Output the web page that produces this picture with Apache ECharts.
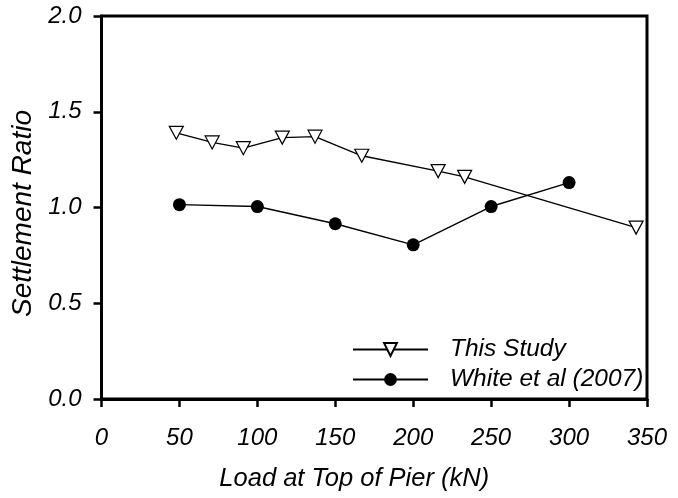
<!DOCTYPE html>
<html>
<head>
<meta charset="utf-8">
<script src="https://cdn.jsdelivr.net/npm/echarts@6/dist/echarts.min.js"></script>
<style>
  html, body { margin: 0; padding: 0; background: #fff; }
  #chart { width: 678px; height: 498px; }
</style>
</head>
<body>
<div id="chart"></div>
<script>
// Load at top of pier (kN) and settlement ratio for each data set
var thisStudyLoad = [48, 71, 91, 116, 137, 167, 216, 233, 343];
var thisStudyRatio = [1.39, 1.34, 1.31, 1.365, 1.37, 1.27, 1.19, 1.16, 0.895];

var whiteLoad = [50, 100, 150, 200, 250, 300];
var whiteRatio = [1.015, 1.005, 0.915, 0.805, 1.005, 1.13];

var seriesNames = ['This Study', 'White et al (2007)'];
var xTitle = 'Load at Top of Pier (kN)';
var yTitle = 'Settlement Ratio';

function pairs(xs, ys) {
  return xs.map(function (x, i) { return [x, ys[i]]; });
}

var font = 'Liberation Sans, Arial, sans-serif';
var downTriangle = 'path://M0,0 L12,0 L6,11 Z';

var chart = echarts.init(document.getElementById('chart'), null, { renderer: 'canvas' });
chart.setOption({
  animation: false,
  backgroundColor: '#fff',
  grid: {
    left: 101.5, right: 31, top: 16, bottom: 99,
    show: true, borderColor: '#000', borderWidth: 3, backgroundColor: 'transparent'
  },
  legend: {
    orient: 'vertical',
    left: 347, top: 332,
    itemWidth: 75, itemHeight: 16, itemGap: 5,
    textStyle: { fontFamily: font, fontStyle: 'italic', fontSize: 24.5, color: '#000', padding: [0, 0, 0, 17] },
    data: seriesNames
  },
  xAxis: {
    type: 'value', min: 0, max: 350, interval: 50,
    name: xTitle, nameLocation: 'middle', nameGap: 67,
    nameTextStyle: { fontFamily: font, fontStyle: 'italic', fontSize: 25.5, color: '#000', padding: [0, 40, 0, 0] },
    axisLine: { show: true, lineStyle: { color: '#000', width: 3 } },
    axisTick: { show: true, inside: false, length: 8, lineStyle: { color: '#000', width: 2.5 } },
    axisLabel: { margin: 27, fontFamily: font, fontStyle: 'italic', fontSize: 24, color: '#000' },
    splitLine: { show: false }
  },
  yAxis: {
    type: 'value', min: 0, max: 2, interval: 0.5,
    name: yTitle, nameLocation: 'middle', nameGap: 61, nameRotate: 90,
    nameTextStyle: { fontFamily: font, fontStyle: 'italic', fontSize: 28, color: '#000', padding: [0, 12, 0, 0] },
    axisLine: { show: true, lineStyle: { color: '#000', width: 3 } },
    axisTick: { show: true, inside: false, length: 8, lineStyle: { color: '#000', width: 2.5 } },
    axisLabel: {
      margin: 20, fontFamily: font, fontStyle: 'italic', fontSize: 24, color: '#000',
      formatter: function (v) { return v.toFixed(1); }
    },
    splitLine: { show: false }
  },
  series: [
    {
      name: seriesNames[0],
      type: 'line',
      data: pairs(thisStudyLoad, thisStudyRatio),
      symbol: downTriangle,
      symbolSize: [14, 13],
      itemStyle: { color: '#fff', borderColor: '#000', borderWidth: 1.2 },
      lineStyle: { color: '#000', width: 1.4 },
      z: 3
    },
    {
      name: seriesNames[1],
      type: 'line',
      data: pairs(whiteLoad, whiteRatio),
      symbol: 'circle',
      symbolSize: 13,
      itemStyle: { color: '#000', borderColor: '#000', borderWidth: 0 },
      lineStyle: { color: '#000', width: 1.4 },
      z: 2
    }
  ]
});
</script>
</body>
</html>
